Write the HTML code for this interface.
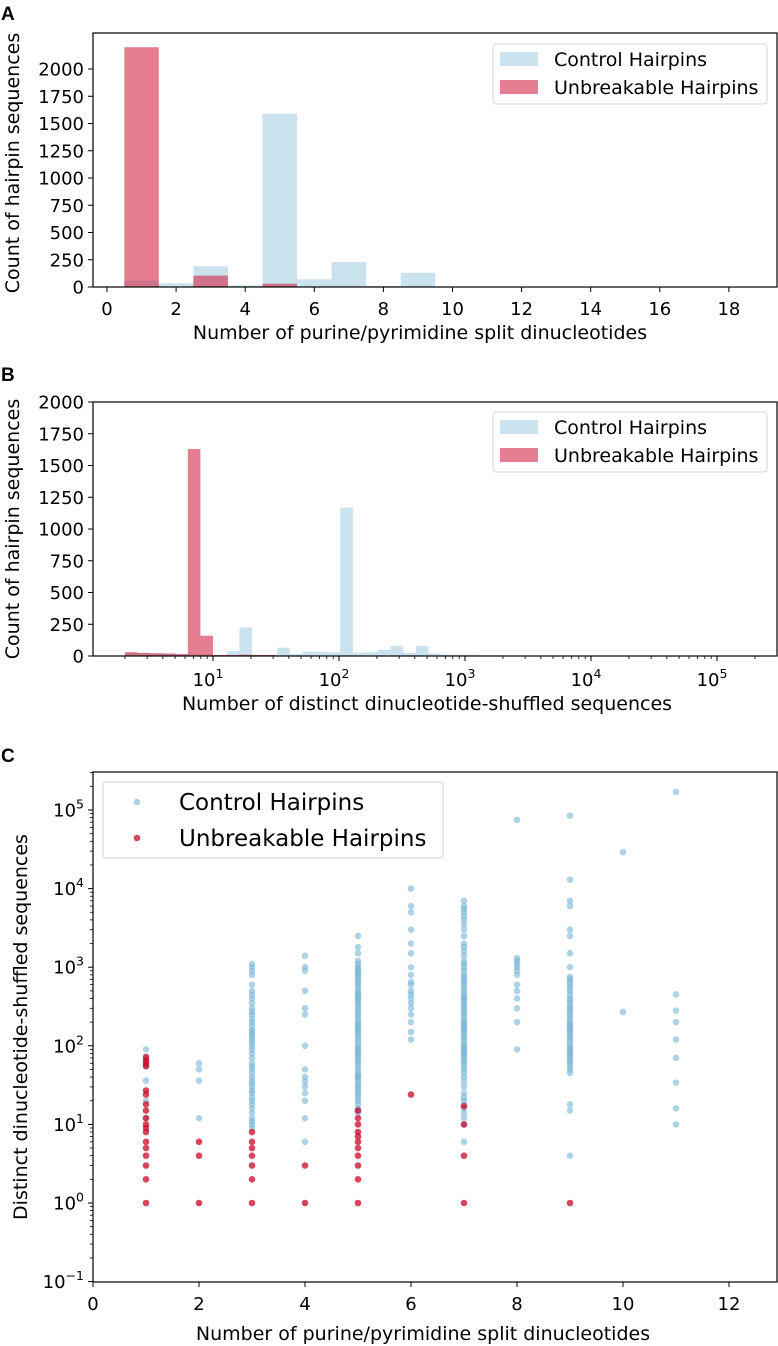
<!DOCTYPE html>
<html><head><meta charset="utf-8"><style>
html,body{margin:0;padding:0;background:#fff;}
svg{display:block;font-family:"DejaVu Sans","Liberation Sans",sans-serif;}
</style></head><body>
<svg id="fig" width="778" height="1346" viewBox="0 0 778 1346" xmlns="http://www.w3.org/2000/svg"></svg>
<script>
// ---------- Panel A data ----------
const aBins = [1,2,3,4,5,6,7,8,9,10,11,12,13,14,15,16,17,18];
const aControl = [60,35,190,15,1590,70,230,10,130,5,2,1,1,0,0,0,0,0];
const aUnbreak = [2200,0,105,0,30,0,0,0,0,0,0,0,0,0,0,0,0,0];
const aXTicks = [0,2,4,6,8,10,12,14,16,18];
const aYTicks = [0,250,500,750,1000,1250,1500,1750,2000];
// ---------- Panel B data (log10 bin left edges, width 0.1) ----------
const bControlStart = 0.31;
const bControl = [25,20,20,18,15,12,10,10,40,225,10,10,65,15,35,35,30,1170,25,30,50,80,25,80,20,10,10,10,5,5,3,2,3,2,2,3,2,1,1,3];
const bUnbreakStart = 0.30;
const bUnbreak = [30,25,22,20,15,1630,160,8,8,10,8,8];
const bXTicks = [1,2,3,4,5];
const bYTicks = [0,250,500,750,1000,1250,1500,1750,2000];
// ---------- Panel C data ----------
const cX = [1,2,3,4,5,6,7,8,9,10,11];
const cControl = [
 [90,70,55,36,60,20,12],
 [60,50,36,12],
 [1100,1000,900,800,600,500,450,400,350,300,270,250,220,200,180,160,150,140,130,120,110,100,90,80,70,60,55,50,45,40,36,33,30,27,25,22,20,18,16,14,12,11,10,9],
 [1400,1000,900,500,300,250,100,50,40,35,30,25,20,12,6],
 [2500,1800,1500,1200,1100,1000,950,900,850,800,750,700,650,600,550,500,470,450,420,400,380,350,330,300,280,260,240,220,200,190,180,170,160,150,140,130,120,110,100,95,90,85,80,75,70,65,60,55,50,45,42,40,38,35,32,30,28,26,24,22,20,18,16,15,14],
 [10000,6000,5000,3000,2000,1500,1000,800,650,600,500,450,400,350,300,250,200,150,120],
 [7000,6000,5500,5000,4500,4000,3500,3000,2500,2000,1800,1600,1400,1200,1100,1000,900,800,750,700,650,600,550,500,450,420,400,380,350,330,300,280,260,240,220,200,190,180,170,160,150,140,130,120,110,100,95,90,85,80,75,70,65,60,55,50,45,40,35,30,25,22,20,18,16,14,12,10,6],
 [75000,1300,1200,1100,1000,900,800,600,500,400,300,200,90],
 [85000,13000,7000,6000,3000,2500,1500,1000,750,700,650,600,550,500,450,400,380,350,320,300,280,260,240,220,200,190,180,170,160,150,140,130,120,110,100,95,90,85,80,75,70,65,60,55,50,45,18,15,4],
 [29000,270],
 [170000,450,280,200,120,70,34,16,10]
];
const cUnbreak = [
 [72,65,60,55,27,24,18,15,12,10,9,8,6,5,4,3,2,1],
 [6,4,1],
 [8,6,5,4,3,2,1],
 [3,1],
 [15,12,10,8,7,6,5,4,3,2,1],
 [24],
 [17,10,4,1],
 [],
 [1],
 [],
 []
];
const cXTicks = [0,2,4,6,8,10,12];
const cYTicks = [-1,0,1,2,3,4,5];

const NS = "http://www.w3.org/2000/svg";
const svg = document.getElementById('fig');
function el(tag, attrs, parent, text){
  const e = document.createElementNS(NS, tag);
  for (const k in attrs) e.setAttribute(k, attrs[k]);
  if (text !== undefined) e.textContent = text;
  (parent || svg).appendChild(e);
  return e;
}
const BLUE = "rgba(160,203,225,0.55)";
const RED = "rgba(210,40,70,0.6)";
const TICK = 18, TITLE = 19;

function axesFrame(g, L, T, R, B){
  const f = el('rect', {x:L, y:T, width:R-L, height:B-T, fill:'none', stroke:'#000', 'stroke-width':1.2}, g);
  
  
}
function panelLetter(txt, x, y){
  const t = el('text', {x:x, y:y, 'font-size':19, 'font-weight':'bold', 'font-family':'"Liberation Sans",sans-serif'}, svg, txt);
  
  
}
function yTitle(txt, x, cy, name){
  const t = el('text', {x:0, y:0, 'font-size':TITLE, 'text-anchor':'middle', transform:`translate(${x},${cy}) rotate(-90)`}, svg, txt);
  
  
}
function xTitle(txt, cx, y, name){
  const t = el('text', {x:cx, y:y, 'font-size':TITLE, 'text-anchor':'middle'}, svg, txt);
  
  
}
function patchLegend(x, y, w, h, name){
  const g = el('g', {}, svg);
  
  
  el('rect', {x:x, y:y, width:w, height:h, rx:3, fill:'#fff', 'fill-opacity':0.8, stroke:'#d6d6d6'}, g);
  const e1 = el('g', {}, g);
  
  
  el('rect', {x:x+7, y:y+8, width:38, height:14, fill:BLUE}, e1);
  el('text', {x:x+61, y:y+22, 'font-size':19}, e1, 'Control Hairpins');
  const e2 = el('g', {}, g);
  
  
  el('rect', {x:x+7, y:y+36, width:38, height:14, fill:RED}, e2);
  el('text', {x:x+61, y:y+50, 'font-size':19}, e2, 'Unbreakable Hairpins');
}

// ================= Panel A =================
(function(){
  const L=93,T=33,R=777,B=287;
  const xs = v => 107 + v*34.55;
  const ys = v => B - v*0.109;
  const g = el('g', {}, svg);
  
  
  aBins.forEach((b,i)=>{
    if (aControl[i] > 0){
      const r = el('rect', {x:xs(b-0.5), y:ys(aControl[i]), width:xs(b+0.5)-xs(b-0.5), height:B-ys(aControl[i]), fill:BLUE}, g);
      
      
    }
  });
  aBins.forEach((b,i)=>{
    if (aUnbreak[i] > 0){
      const r = el('rect', {x:xs(b-0.5), y:ys(aUnbreak[i]), width:xs(b+0.5)-xs(b-0.5), height:B-ys(aUnbreak[i]), fill:RED}, g);
      
      
    }
  });
  axesFrame(g, L, T, R, B);
  aXTicks.forEach(t=>{
    el('line', {x1:xs(t), x2:xs(t), y1:B, y2:B+5, stroke:'#000'}, g);
    const tx = el('text', {x:xs(t), y:B+28, 'font-size':TICK, 'text-anchor':'middle'}, g, t);
    
    
  });
  aYTicks.forEach(t=>{
    el('line', {x1:L-5, x2:L, y1:ys(t), y2:ys(t), stroke:'#000'}, g);
    const tx = el('text', {x:L-9, y:ys(t)+6.5, 'font-size':TICK, 'text-anchor':'end'}, g, t);
    
    
  });
})();
panelLetter('A', 1, 20);
yTitle('Count of hairpin sequences', 19, 163, 'y-axis-title-a');
xTitle('Number of purine/pyrimidine split dinucleotides', 420, 339, 'x-axis-title-a');
patchLegend(493, 44, 274, 60, 'legend-a');

// ================= Panel B =================
(function(){
  const L=93,T=402,R=777,B=656;
  const xs = lg => 213 + (lg-1)*126;
  const ys = v => B - v*0.127;
  const g = el('g', {}, svg);
  
  
  bControl.forEach((v,k)=>{
    const lg = bControlStart + 0.1*k;
    const r = el('rect', {x:xs(lg), y:ys(v), width:xs(lg+0.1)-xs(lg), height:B-ys(v), fill:BLUE}, g);
    
    
  });
  bUnbreak.forEach((v,k)=>{
    const lg = bUnbreakStart + 0.1*k;
    const r = el('rect', {x:xs(lg), y:ys(v), width:xs(lg+0.1)-xs(lg), height:B-ys(v), fill:RED}, g);
    
    
  });
  axesFrame(g, L, T, R, B);
  for (let d=0; d<=5; d++){
    for (let m=2; m<=9; m++){
      const x = xs(d+Math.log10(m));
      if (x>L && x<R) el('line', {x1:x, x2:x, y1:B, y2:B+3, stroke:'#000', 'stroke-width':0.8}, g);
    }
  }
  bXTicks.forEach(t=>{
    el('line', {x1:xs(t), x2:xs(t), y1:B, y2:B+5, stroke:'#000'}, g);
    const tx = el('text', {x:xs(t)-5, y:B+30, 'font-size':TICK, 'text-anchor':'middle'}, g);
    
    
    el('tspan', {}, tx, '10');
    el('tspan', {dy:-8, 'font-size':12.5}, tx, t);
  });
  bYTicks.forEach(t=>{
    el('line', {x1:L-5, x2:L, y1:ys(t), y2:ys(t), stroke:'#000'}, g);
    const tx = el('text', {x:L-9, y:ys(t)+6.5, 'font-size':TICK, 'text-anchor':'end'}, g, t);
    
    
  });
})();
panelLetter('B', 1, 381);
yTitle('Count of hairpin sequences', 19, 529, 'y-axis-title-b');
xTitle('Number of distinct dinucleotide-shuffled sequences', 427, 710, 'x-axis-title-b');
patchLegend(493, 412, 274, 60, 'legend-b');

// ================= Panel C =================
(function(){
  const L=93,T=772,R=777,B=1282;
  const xs = v => 93 + v*53;
  const ys = v => 1203 - Math.log10(v)*78.6;
  const g = el('g', {}, svg);
  
  
  axesFrame(g, L, T, R, B);
  cX.forEach((x,i)=>{
    cControl[i].forEach(v=>{
      const c = el('circle', {cx:xs(x), cy:ys(v), r:3.3, fill:'rgba(120,182,214,0.6)'}, g);
      
      
    });
  });
  cX.forEach((x,i)=>{
    cUnbreak[i].forEach(v=>{
      const c = el('circle', {cx:xs(x), cy:ys(v), r:3.3, fill:'rgba(200,10,40,0.75)'}, g);
      
      
    });
  });
  cXTicks.forEach(t=>{
    el('line', {x1:xs(t), x2:xs(t), y1:B, y2:B+5, stroke:'#000'}, g);
    const tx = el('text', {x:xs(t), y:B+28, 'font-size':TICK, 'text-anchor':'middle'}, g, t);
    
    
  });
  for (let d=-1; d<=5; d++){
    for (let m=2; m<=9; m++){
      const y = ys(Math.pow(10,d)*m);
      if (y>T && y<B) el('line', {x1:L-3, x2:L, y1:y, y2:y, stroke:'#000', 'stroke-width':0.8}, g);
    }
  }
  cYTicks.forEach(t=>{
    const y = ys(Math.pow(10,t));
    el('line', {x1:L-5, x2:L, y1:y, y2:y, stroke:'#000'}, g);
    const tx = el('text', {x:L-9, y:y+6.5, 'font-size':TICK, 'text-anchor':'end'}, g);
    
    
    el('tspan', {}, tx, '10');
    el('tspan', {dy:-8, 'font-size':12.5}, tx, t < 0 ? '\u22121' : t);
  });
  const lg = el('g', {}, svg);
  
  
  el('rect', {x:103, y:782, width:340, height:76, rx:3, fill:'#fff', 'fill-opacity':0.85, stroke:'#d6d6d6'}, lg);
  const e1 = el('g', {}, lg);
  
  
  el('circle', {cx:137, cy:802, r:3.3, fill:'rgba(120,182,214,0.6)'}, e1);
  el('text', {x:179, y:810, 'font-size':23}, e1, 'Control Hairpins');
  const e2 = el('g', {}, lg);
  
  
  el('circle', {cx:137, cy:838, r:3.3, fill:'rgba(200,10,40,0.75)'}, e2);
  el('text', {x:179, y:846, 'font-size':23}, e2, 'Unbreakable Hairpins');
})();
panelLetter('C', 1, 762);
yTitle('Distinct dinucleotide-shuffled sequences', 27, 1027, 'y-axis-title-c');
xTitle('Number of purine/pyrimidine split dinucleotides', 423, 1340, 'x-axis-title-c');
</script>
</body></html>
